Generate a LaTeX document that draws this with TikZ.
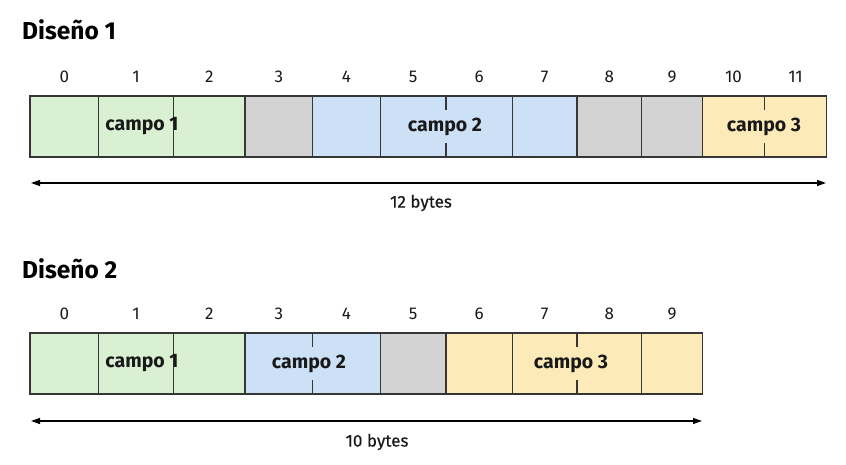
\documentclass[tikz,border=0pt]{standalone}
\usepackage{fontspec}
\setmainfont{Fira Sans}
\usetikzlibrary{arrows.meta}
\definecolor{cgreen}{HTML}{D9F0D3}
\definecolor{cblue}{HTML}{CCE0F6}
\definecolor{cgray}{HTML}{D3D3D3}
\definecolor{cyellow}{HTML}{FCEBB8}
\definecolor{cline}{HTML}{363636}
\begin{document}
\begin{tikzpicture}[x=1pt,y=-1pt,
  cellbox/.style={draw=cline, line width=1.3pt, inner sep=0pt, outer sep=0pt, anchor=north west, minimum height=61pt},
  idx/.style={font=\fontsize{17}{17}\selectfont, text=black!90},
  title/.style={font=\fontsize{24.5}{24.5}\selectfont\bfseries, anchor=west, inner sep=0pt},
  field/.style={font=\fontsize{19.5}{19.5}\selectfont\bfseries, text=black!90, inner xsep=3pt, minimum height=33pt},
  bytes/.style={font=\fontsize{17}{17}\selectfont\addfontfeature{FakeBold=0.4}, text=black!90},
  span/.style={line width=1.3pt, {Triangle[length=9pt,width=6pt]}-{Triangle[length=9pt,width=6pt]}}]
\useasboundingbox (0,0) rectangle (846,464);
\fill[white] (0,0) rectangle (846,464);

% Diseño 1
\node[title] (t1) at (22,30) {Diseño 1};
\foreach \a/\b/\c/\n [count=\i from 0] in {30/98.5/cgreen/0, 98.5/173.5/cgreen/1, 173.5/245/cgreen/2, 245/312.5/cgray/3, 312.5/380.5/cblue/4, 380.5/446/cblue/5, 446/512.5/cblue/6, 512.5/577/cblue/7, 577/641.5/cgray/8, 641.5/702.5/cgray/9, 702.5/764.5/cyellow/10, 764.5/826.5/cyellow/11}{
  \node[cellbox, fill=\c, minimum width={\b pt-\a pt}] (a\i) at (\a,96) {};
  \node[idx] (ai\i) at ({(\a+\b)/2},77) {\n};
}
\node[field] (f11) at (142,126.5) {campo 1};
\node[field, fill=cblue] (f12) at (445,126.5) {campo 2};
\node[field, fill=cyellow] (f13) at (764,126.5) {campo 3};
\coordinate (l1) at (31,183);
\coordinate (r1) at (826,183);
\draw[span] (l1) -- (r1);
\node[bytes] (b1) at (421,203) {12 bytes};

% Diseño 2
\node[title] (t2) at (22,269) {Diseño 2};
\foreach \a/\b/\c/\n [count=\i from 0] in {30/98.5/cgreen/0, 98.5/173.5/cgreen/1, 173.5/245/cgreen/2, 245/312.5/cblue/3, 312.5/380.5/cblue/4, 380.5/446/cgray/5, 446/512.5/cyellow/6, 512.5/577/cyellow/7, 577/641.5/cyellow/8, 641.5/702.5/cyellow/9}{
  \node[cellbox, fill=\c, minimum width={\b pt-\a pt}] (b\i) at (\a,333) {};
  \node[idx] (bi\i) at ({(\a+\b)/2},314) {\n};
}
\node[field] (f21) at (142,363.5) {campo 1};
\node[field, fill=cblue] (f22) at (309,363.5) {campo 2};
\node[field, fill=cyellow] (f23) at (571,363.5) {campo 3};
\coordinate (l2) at (31,421);
\coordinate (r2) at (702,421);
\draw[span] (l2) -- (r2);
\node[bytes] (b2) at (377,442) {10 bytes};
\end{tikzpicture}
\end{document}
